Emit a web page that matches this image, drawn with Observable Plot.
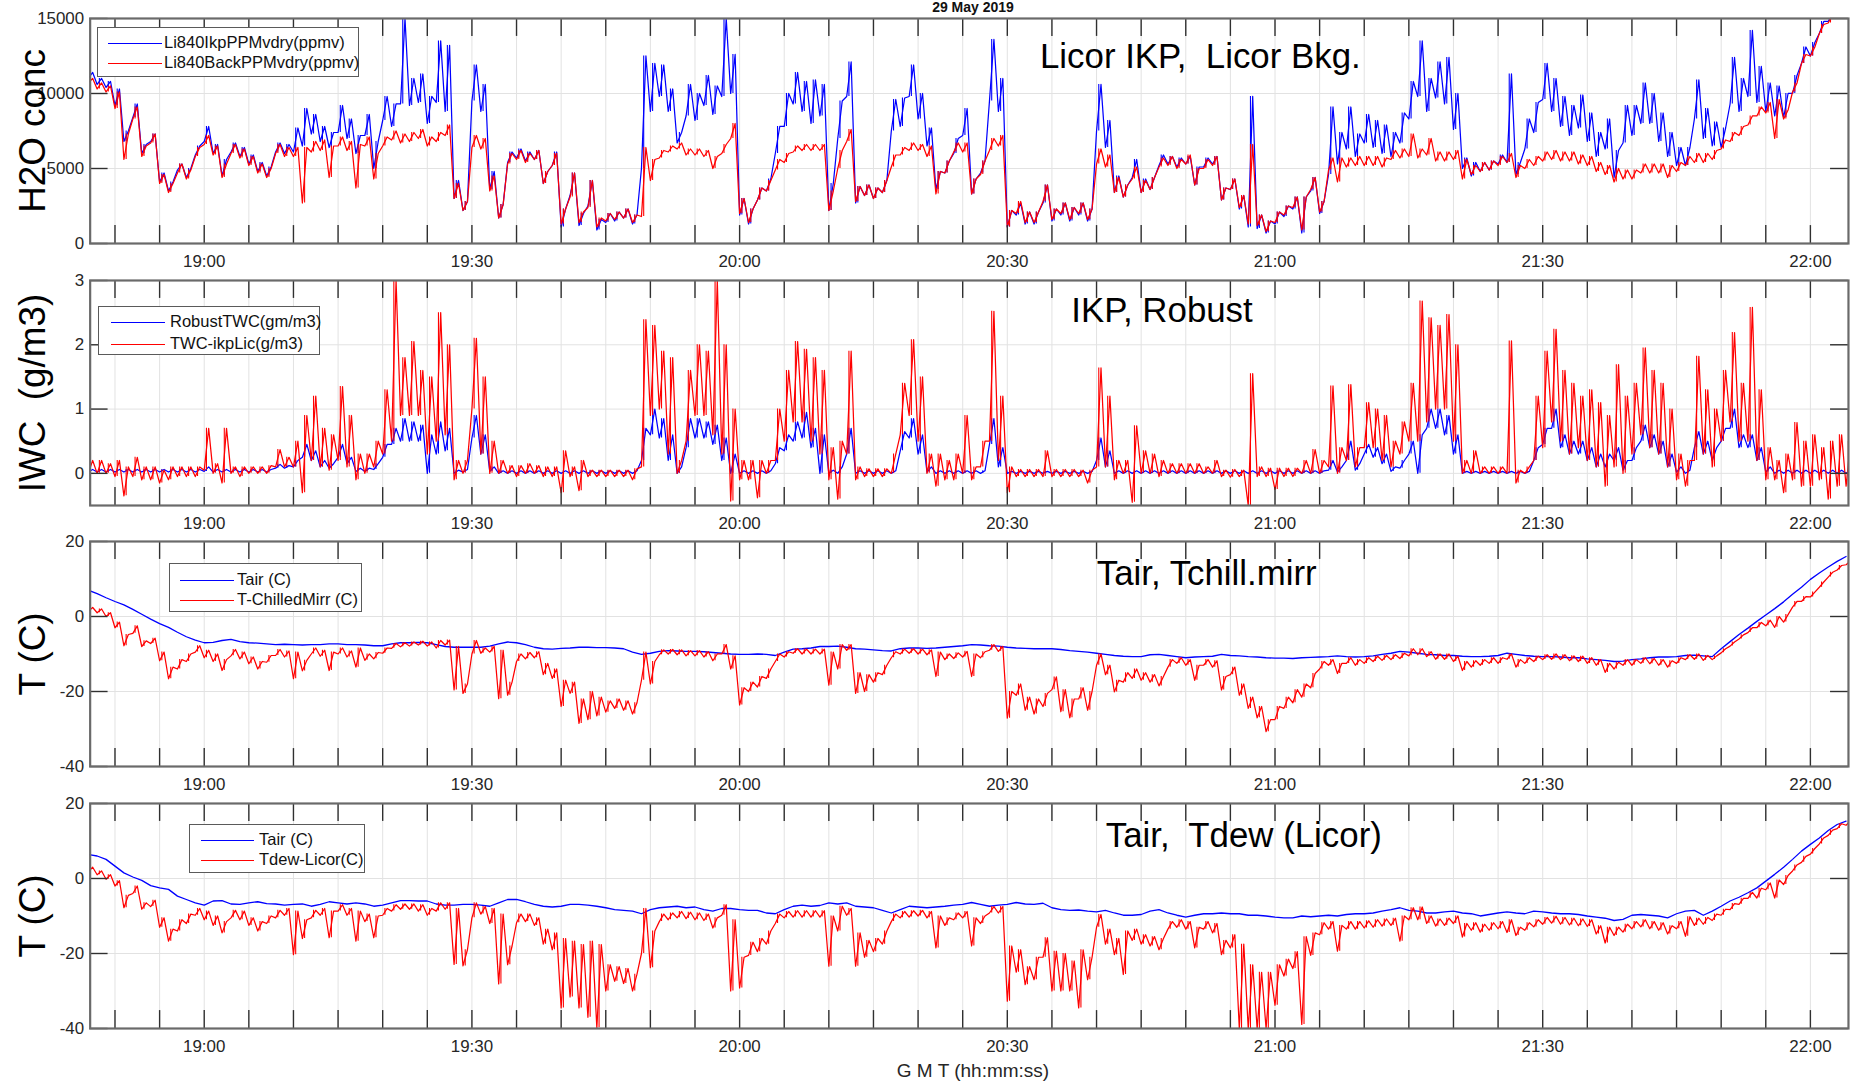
<!DOCTYPE html>
<html>
<head>
<meta charset="utf-8">
<script src="https://cdn.jsdelivr.net/npm/d3@7"></script>
<script src="https://cdn.jsdelivr.net/npm/@observablehq/plot@0.6"></script>
<style>
html,body{margin:0;padding:0;background:#fff;overflow:hidden;width:1852px;height:1084px;}
#root{position:relative;width:1852px;height:1084px;overflow:hidden;font-family:"Liberation Sans",Arial,sans-serif;}
.panel{position:absolute;left:0;}
.legend{position:absolute;background:#fff;border:1.4px solid #5a5a5a;box-sizing:border-box;}
.legend .sw{position:absolute;height:0;border-top:1.5px solid;}
.legend .lab{position:absolute;font-size:16.5px;line-height:17px;color:#111;white-space:nowrap;transform:translateY(-52%);}
.title{position:absolute;left:773px;width:400px;text-align:center;top:0px;font-weight:bold;font-size:14px;line-height:14px;color:#111;}
.xlab{position:absolute;left:773px;width:400px;text-align:center;top:1061px;font-size:19px;line-height:19px;color:#262626;}
</style>
</head>
<body>
<div id="root"></div>
<script>
// ---------- time grid (one reading pair per minute, 18:47 .. 22:04 GMT) ----------
const startTime = "2019-05-29T18:47:00Z";
const xStart = "2019-05-29T18:47:13Z";
const xEnd = "2019-05-29T22:04:16Z";
const timeLabels = ["19:00","19:30","20:00","20:30","21:00","21:30","22:00"];

// ---------- panel 1 : H2O concentration (ppmv) ----------
const ikpLo = [11000,10600,10400,9200,6800,8400,6000,6800,4100,3500,
4900,4400,5900,6800,6000,4500,6100,5800,5300,4800,
4500,6100,6000,6100,6500,7300,6800,6400,7400,7000,
6000,7200,5000,8200,7800,9300,9200,9400,8000,9400,
8800,3000,2200,9500,8800,3600,1700,5400,5700,5500,
5600,4000,5200,1100,3200,1200,2500,900,1400,1500,
1700,1300,5000,8800,9800,8800,6700,8500,8200,9200,
8600,9800,10000,1900,1300,2900,3500,6000,7800,9300,
8800,8000,8500,2200,7000,9800,2700,3200,3000,3400,
7500,7800,9800,8300,6500,3600,4700,6000,7200,3300,
4700,9500,8800,1100,1900,1300,1300,2700,1500,1900,
1500,1900,1500,7500,6400,3400,3100,4400,3400,3600,
5200,5300,5100,5300,3900,5100,5300,2900,3600,2300,
1100,1000,700,1300,1800,2300,700,3500,2000,4600,
5300,6300,5800,6700,6400,6000,5800,6700,8300,9800,
8800,9700,9300,7600,5000,4500,4800,4900,5300,5400,
4600,6300,7400,9600,8800,7800,7200,7700,6800,5800,
6300,4400,6700,7200,8000,8000,6800,5800,5200,5200,
8300,7000,6500,6400,9300,8800,9800,9400,8800,8500,
8400,10000,12000,12500,14000,14800,15500,16200];
const ikpHi = [11400,11000,10800,10300,7500,9300,6600,7300,4700,4100,
5300,5000,6500,7800,6600,5600,6700,6400,5900,5400,
5100,6700,6600,7700,9000,8600,7800,7400,9200,8300,
7200,8600,6800,9800,9300,15000,11000,11300,9800,13500,
13200,4200,2800,11900,10600,4800,2600,6100,6300,6100,
6200,4800,6100,2300,4700,2000,4200,1600,2000,2100,
2300,1900,12500,12000,11900,10300,7400,10600,10000,11200,
10500,15000,12600,3000,2300,3700,4300,7800,10000,11400,
10800,10900,10600,4000,9500,12100,3800,3900,3700,4200,
9600,9700,11900,10000,7700,4800,5500,7000,9000,4300,
5500,13600,11000,2200,2700,2100,2100,3900,2300,2700,
2400,2700,2300,10600,8200,4500,3900,5600,4300,4400,
5900,5800,5700,5800,5100,5700,5800,3700,4300,3200,
9800,1900,1500,2100,2500,3100,3100,4400,2800,9100,
7400,9100,7300,8600,8200,7900,7400,8700,10800,13500,
11000,12100,12400,10000,5700,5400,5400,5500,5900,11300,
5400,8300,9400,12000,11000,9800,9200,9900,8700,7400,
8300,6200,9200,9200,10700,10000,8700,7400,6400,6400,
10900,9000,8100,7700,12400,11000,14200,11800,10700,10500,
10000,11200,13100,13400,14800,15400,16100,16800];
const bkgLo = [10700,10300,10100,9000,5600,8300,5800,6700,4000,3400,
4700,4300,5800,6600,5900,4400,6000,5700,5200,4700,
4400,6000,5800,5800,2700,6100,6200,4400,6500,6200,
3700,6500,4300,6500,6900,6700,6800,7000,6500,6800,
7200,3000,2200,6400,6300,3500,1700,5300,5600,5400,
5600,4000,5200,1300,3100,1400,2400,1100,1500,1600,
1700,1400,1800,4200,5700,6100,6300,5900,5900,5800,
5000,6000,7000,2000,1400,2900,3500,4900,5400,6100,
6200,6200,6200,2200,5000,6800,2800,3200,3000,3400,
5100,5900,6200,6200,5800,3300,4700,6100,6100,3300,
4600,6200,6500,1100,2000,1400,1400,2800,1600,2000,
1600,2000,1600,5300,5100,3400,3100,4300,3400,3600,
5100,5200,5000,5300,3900,5000,5200,2900,3600,2400,
1300,1200,800,1400,1900,2400,900,3600,2100,4900,
4100,5100,5200,5200,5200,5100,5600,5700,5800,5700,
5900,5500,5500,5600,4300,4600,4800,4900,5200,5400,
4400,5000,5200,5500,5600,5500,5500,5300,5200,4800,
4600,4100,4300,4300,4700,4700,4700,4400,4800,5200,
5400,5400,5600,6300,6800,7200,7900,8500,8700,7000,
8300,10100,12000,12500,14000,14700,15500,16200];
const bkgHi = [11000,10700,10500,10100,7300,9100,6500,7300,4600,4000,
5300,4900,6400,7200,6500,5300,6600,6300,5800,5300,
5000,6600,6400,6400,6400,6800,6900,6500,7100,6800,
6600,7100,6000,7100,7500,7300,7400,7600,7100,7400,
7900,4000,2800,7200,7000,4500,2600,6000,6200,6000,
6200,4800,6000,2300,4700,2100,4200,1700,2000,2100,
2300,1900,6400,5600,6200,6500,6700,6300,6300,6200,
5800,6600,8000,3000,2300,3700,4200,5600,6000,6500,
6600,6600,6600,3500,6200,7600,3800,3900,3700,4200,
5900,6400,6700,6600,6500,4800,5500,6700,6700,4300,
5500,7000,7200,2200,2800,2100,2100,3900,2300,2700,
2400,2700,2300,6300,5900,4400,3900,5100,4200,4400,
5700,5800,5600,5900,5000,5600,5800,3700,4300,3200,
6600,1900,1500,2100,2500,3100,3100,4400,2800,5700,
5700,5700,5800,5800,5800,5700,6200,6300,7300,6300,
7000,6100,6100,6200,5600,5200,5400,5500,5800,6000,
5200,5600,5800,6100,6200,6100,6100,5900,5800,5400,
5200,5000,4900,4900,5300,5300,5300,5200,5400,5800,
6000,6000,6200,6900,7400,7800,8500,9100,9400,9600,
8900,10700,12600,13100,14600,15300,16100,16800];

// ---------- panel 2 : IWC (g/m3) ----------
const robustLo = [0.02,0.02,0.02,0.02,0.02,0.02,0.02,0.02,0.02,0.02,
0.02,0.02,0.02,0.03,0.02,0.02,0.02,0.02,0.02,0.02,
0.02,0.08,0.08,0.1,0.25,0.2,0.1,0.08,0.25,0.15,
0.03,0.03,0.06,0.25,0.45,0.5,0.5,0.5,0,0.3,
0.35,0,0.02,0.55,0.3,0.03,0,0,0,0,
0,0,0,0,0,0,0,0,0,0,
0,0,0.2,0.6,0.55,0.2,0,0.4,0.55,0.55,
0.45,0.2,0,0,0,0,0,0.15,0.35,0.5,
0.55,0.4,0,0,0,0.3,0,0,0,0,
0,0.35,0.55,0.3,0.02,0,0,0,0,0,
0,0.45,0.1,0,0,0,0,0,0,0,
0,0,0,0.2,0.1,0,0,0,0,0,
0,0,0,0,0,0,0,0,0,0,
0,0,0,0,0,0,0,0,0,0.05,
0.02,0.2,0.05,0.3,0.25,0.15,0.03,0.08,0.3,0,
0.7,0.7,0.6,0.3,0,0,0,0,0,0,
0,0,0.2,0.45,0.7,0.4,0.3,0.3,0.2,0.1,
0.1,0.2,0.05,0.2,0.5,0.4,0.3,0.1,0.02,0,
0.4,0.3,0.2,0.5,0.7,0.4,0.4,0.2,0.02,0,
0,0,0,0,0,0,0,0];
const robustHi = [0.06,0.06,0.06,0.06,0.06,0.06,0.06,0.06,0.06,0.06,
0.06,0.06,0.06,0.1,0.06,0.06,0.06,0.06,0.06,0.06,
0.06,0.14,0.12,0.2,0.45,0.35,0.2,0.15,0.45,0.25,
0.08,0.08,0.15,0.45,0.7,0.85,0.8,0.75,0.6,0.8,
0.7,0.05,0.06,0.9,0.6,0.1,0.04,0.04,0.04,0.04,
0.04,0.04,0.04,0.04,0.04,0.04,0.04,0.04,0.04,0.04,
0.04,0.04,0.7,1.0,0.85,0.6,0.1,0.85,0.85,0.8,
0.75,0.55,0.3,0.04,0.04,0.04,0.04,0.4,0.6,0.8,
0.95,0.7,0.6,0.05,0.1,0.7,0.04,0.04,0.04,0.04,
0.04,0.65,0.85,0.6,0.1,0.04,0.04,0.04,0.04,0.04,
0.04,0.85,0.4,0.03,0.03,0.03,0.03,0.03,0.03,0.03,
0.03,0.03,0.03,0.55,0.35,0.04,0.04,0.04,0.04,0.04,
0.04,0.04,0.04,0.04,0.04,0.04,0.04,0.04,0.04,0.04,
0.04,0.04,0.04,0.04,0.04,0.04,0.04,0.04,0.04,0.2,
0.1,0.5,0.15,0.45,0.4,0.3,0.1,0.2,0.5,0.6,
1.0,1.0,0.9,0.6,0.03,0.03,0.03,0.03,0.03,0.03,
0.03,0.03,0.4,0.7,1.0,0.6,0.5,0.5,0.4,0.3,
0.3,0.4,0.2,0.4,0.75,0.6,0.5,0.3,0.1,0.05,
0.65,0.5,0.4,0.7,1.0,0.6,0.6,0.4,0.1,0.05,
0.05,0.05,0.05,0.05,0.05,0.05,0.05,0.05];
const twcLo = [0,0,0,-0.05,-0.35,-0.05,-0.1,-0.1,-0.15,-0.1,
-0.05,-0.05,-0.05,0.05,0,-0.15,0,-0.05,0,0,
0,0.1,0.1,0.1,-0.3,0.2,0.1,0.05,0.2,0.1,
-0.1,0,0.1,0.3,0.5,0.9,0.9,0.9,0.3,0.5,
0.6,-0.1,0,1.0,0.3,0,0,0,-0.05,0,
0,-0.05,-0.05,-0.3,-0.05,-0.27,-0.05,-0.05,-0.05,-0.05,
-0.05,-0.1,0.1,0.9,1.0,0.3,0,0.5,0.9,0.9,
0.6,0.3,-0.43,-0.1,-0.1,-0.38,0,0.2,0.5,0.8,
0.8,0.5,0.3,-0.1,-0.4,0.3,-0.1,-0.05,-0.05,-0.05,
0,0.6,0.9,0.5,0,-0.2,-0.1,-0.1,0,-0.1,
0.1,0.5,0.2,-0.3,-0.05,-0.05,-0.05,-0.05,-0.05,-0.05,
-0.05,-0.05,-0.15,0.1,0.1,-0.1,0,-0.45,0,0,
-0.05,0,0,0,0,0,0,-0.05,-0.06,-0.05,
-0.5,-0.05,-0.05,-0.25,-0.05,-0.05,0,0,0,0.1,
0,0.2,0.1,0.4,0.4,0.2,0.1,0.3,0.5,0.5,
0.8,1.0,1.0,0.5,0,0,0,0,0,0,
-0.15,0,0.2,0.4,0.8,0.5,0.3,0.4,0.2,0.1,
-0.2,0.1,0,0.3,0.6,0.4,0.3,0.1,-0.1,-0.2,
0.2,0.3,0.1,0.5,0.8,0.5,0.5,0.2,-0.1,-0.1,
-0.3,-0.1,-0.2,-0.2,-0.1,-0.4,-0.2,-0.2];
const twcHi = [0.2,0.2,0.15,0.2,0.1,0.25,0.1,0.1,0.05,0.1,
0.1,0.1,0.1,0.7,0.15,0.7,0.1,0.1,0.1,0.1,
0.12,0.37,0.25,0.5,0.9,1.2,0.7,0.6,1.35,0.9,
0.3,0.3,0.5,1.3,3.0,1.8,2.05,1.6,1.5,2.5,
2.0,0.2,0.2,2.1,1.5,0.5,0.2,0.12,0.12,0.15,
0.12,0.1,0.1,0.35,0.1,0.2,0.05,0.05,0.05,0.05,
0.05,0.07,2.39,2.3,1.9,1.8,0.2,1.6,2.0,1.9,
3.0,2.0,1.0,0.2,0.2,0.2,0.2,1.0,1.6,2.05,
1.93,1.8,1.6,0.4,0.5,1.9,0.1,0.07,0.07,0.07,
0.3,1.4,2.08,1.5,0.3,0.3,0.2,0.3,0.9,0.1,
0.5,2.52,1.2,0.1,0.06,0.06,0.06,0.35,0.06,0.06,
0.06,0.05,0.05,1.64,1.2,0.2,0.2,0.74,0.35,0.3,
0.2,0.15,0.15,0.15,0.15,0.1,0.2,0.05,0.06,0.05,
1.55,0.1,0.08,0.08,0.08,0.08,0.2,0.37,0.2,1.36,
0.4,1.38,0.4,1.1,1.0,0.9,0.5,0.8,1.4,2.68,
2.42,2.3,2.47,2.0,0.2,0.35,0.1,0.1,0.1,2.06,
0.05,0.1,1.2,1.9,2.24,1.6,1.4,1.2,1.3,1.1,
0.9,1.69,1.2,1.4,1.95,1.6,1.4,1.0,0.3,0.2,
1.82,1.3,1.0,1.6,2.19,1.4,2.58,1.3,0.4,0.2,
0.3,0.79,0.5,0.6,0.4,0.5,0.6,0.5];

// ---------- panel 3 : Tair and chilled-mirror T (C) ----------
const tairMirr = [7.0,6.1,5.0,4.0,3.1,1.9,0.6,-0.7,-1.9,-2.9,
-4.2,-5.4,-6.3,-7.0,-6.9,-6.4,-6.1,-6.7,-7.0,-7.1,
-7.3,-7.5,-7.4,-7.5,-7.6,-7.5,-7.5,-7.3,-7.3,-7.5,
-7.5,-7.6,-7.8,-7.8,-7.3,-7.0,-7.0,-6.9,-7.0,-7.5,
-8.0,-8.2,-8.2,-8.2,-8.2,-7.9,-7.3,-6.8,-7.0,-7.5,
-8.2,-8.6,-8.7,-8.5,-8.4,-8.2,-8.2,-8.3,-8.3,-8.4,
-8.6,-9.5,-10.1,-9.8,-9.3,-9.1,-9.2,-9.3,-9.3,-9.4,
-9.6,-9.8,-10.0,-10.1,-10.1,-10.0,-10.1,-10.4,-9.5,-8.7,
-8.6,-8.4,-8.0,-8.0,-7.9,-8.2,-8.6,-8.7,-8.9,-9.1,
-9.2,-8.6,-8.4,-8.4,-8.5,-8.4,-8.2,-8.0,-7.8,-7.5,
-7.6,-7.8,-7.9,-8.2,-8.4,-8.5,-8.6,-8.6,-8.6,-8.8,
-9.1,-9.3,-9.5,-9.8,-10.1,-10.4,-10.6,-10.7,-10.7,-10.2,
-10.1,-10.4,-10.7,-11.0,-10.8,-10.7,-10.6,-10.1,-10.4,-10.5,
-10.7,-10.8,-11.0,-11.1,-11.1,-11.2,-11.0,-10.9,-10.8,-10.7,
-10.5,-10.7,-10.8,-10.7,-10.5,-10.1,-9.8,-9.3,-9.5,-9.8,
-10.1,-10.2,-10.4,-10.4,-10.6,-10.7,-10.7,-10.6,-10.4,-9.8,
-10.1,-10.4,-10.6,-10.7,-10.7,-10.8,-11.0,-11.0,-11.3,-11.5,
-11.7,-12.0,-11.9,-11.5,-11.3,-11.0,-10.8,-10.8,-10.7,-10.4,
-10.3,-10.5,-10.7,-8.6,-6.7,-4.8,-3.1,-1.3,0.4,2.1,
3.9,5.9,7.8,9.9,11.6,13.2,14.7,16.0];
const mirrLo = [1.4,1.0,0.0,-3.0,-7.8,-4.5,-8.0,-7.2,-11.8,-16.6,
-14,-12,-9.5,-11,-12,-14.4,-10.5,-11.3,-12.6,-14,
-12.2,-10.4,-10.8,-16.6,-14.5,-10,-10.6,-14.4,-10,-10.8,
-13.5,-11.7,-11.3,-9.8,-8.5,-8.1,-7.9,-7.6,-7.9,-8.4,
-7.6,-19.6,-20.5,-10,-9.8,-9.5,-21.9,-21,-12,-11.3,
-11,-15.5,-16.5,-24,-20.5,-28.5,-27.5,-26.5,-25.5,-24.5,
-25,-26,-17,-18,-10.2,-10,-10.2,-10.5,-10.5,-10.8,
-11.8,-10,-14,-23.6,-20,-18.8,-16.5,-12,-10.8,-9.8,
-10,-10,-10,-18.3,-14,-9,-20.5,-20,-17.5,-15.5,
-11,-10,-9.8,-10,-10.2,-16,-11.5,-11.2,-10.8,-16,
-11,-9,-9.3,-27.1,-21,-25,-26,-24,-19.5,-25.4,
-27,-22,-25,-13,-15.5,-20.1,-17.5,-16.5,-17,-17.5,
-18.5,-13.5,-12.5,-13,-17,-13,-13.5,-19.6,-15.5,-21,
-24.5,-27,-30.7,-27.5,-24.5,-23,-21.5,-19,-14,-13,
-15.2,-12.5,-13,-12.5,-12,-11.7,-11.5,-11.2,-10.5,-10.2,
-10.7,-11.4,-11.4,-12,-14.4,-13.5,-13,-12.5,-12.5,-11.4,
-13.5,-12.5,-12,-11.5,-11.4,-11.5,-11.8,-12,-12.5,-13,
-14.9,-14,-13,-13,-12.5,-12.6,-13,-13.5,-12.5,-11.5,
-11.4,-11.7,-11.5,-9.7,-7.9,-6,-4.3,-3,-2.5,-2.9,
-1.5,2.5,4,5.2,7.8,10.5,12.4,13.8];
const mirrHi = [2.4,2.0,1.0,-1.5,-4.8,-2.5,-6.5,-5.8,-9.5,-13.5,
-11.5,-10,-7.8,-9,-10,-11.5,-8.8,-9.5,-10.8,-12,
-10.4,-8.8,-9.2,-9.5,-11.7,-8.4,-9,-9.5,-8.4,-9.2,
-8.4,-10,-9.6,-8.4,-7.2,-7,-6.8,-6.6,-6.8,-6.4,
-6.3,-8,-18,-6.4,-8.4,-8,-9,-17.5,-10,-9.6,
-9.4,-12.5,-14,-17,-17.5,-22,-20,-21.5,-22.5,-22,
-22.5,-23,-9.5,-12,-8.9,-8.8,-8.9,-9.1,-9.1,-9.4,
-10,-7.5,-10.5,-19,-17.5,-16,-14,-10,-9.4,-8.6,
-8.7,-8.7,-8.7,-9.5,-7.5,-7.5,-15,-15.5,-15,-13,
-9.4,-8.7,-8.6,-8.7,-8.9,-9.5,-10,-9.7,-9.3,-10,
-9.4,-7.5,-8,-20,-18,-21.5,-22,-20.5,-16.1,-19.5,
-22,-19,-20,-10,-13,-17,-15,-14,-15,-15.5,
-16,-11.5,-11,-11.5,-13,-11.5,-11.8,-16,-13.5,-18,
-21.5,-24,-27.5,-24,-21.5,-19.5,-18,-15.2,-12,-11.5,
-12.5,-11,-11.5,-11,-10.6,-10.4,-10.2,-9.8,-8.6,-8.6,
-9.4,-10,-10,-10.6,-12,-11.8,-11.5,-11,-11,-10,
-11.5,-11,-10.6,-10.2,-10,-10.2,-10.5,-10.6,-11,-11.5,
-12.5,-12.2,-11.5,-11.5,-11,-11.2,-11.5,-11.8,-11,-10.2,
-10,-10.4,-10.5,-8.6,-6.8,-4.9,-3,-1.6,-1,0,
0.5,4,5.3,6.5,9.2,11.8,13.6,14.8];

// ---------- panel 4 : Tair and Licor dew point (C) ----------
const tairLicor = [6.4,6.0,5.1,3.3,1.5,0.4,-0.5,-1.9,-2.5,-2.9,
-4.7,-5.6,-6.5,-7.1,-6.0,-5.9,-6.8,-6.9,-6.5,-6.2,
-6.7,-6.8,-7.1,-6.9,-6.8,-7.4,-6.9,-6.2,-6.5,-6.8,
-6.5,-6.8,-7.4,-7.1,-6.5,-5.9,-5.9,-6.0,-6.0,-6.8,
-7.1,-7.1,-6.9,-6.9,-7.1,-7.4,-6.5,-5.6,-5.6,-6.2,
-6.9,-7.4,-7.6,-7.4,-6.9,-6.9,-7.1,-7.4,-7.8,-8.3,
-8.5,-8.7,-9.4,-8.3,-7.8,-7.6,-7.4,-7.8,-7.6,-8.3,
-8.7,-8.0,-8.0,-8.3,-8.5,-8.5,-9.2,-9.4,-8.3,-7.4,
-7.1,-7.4,-7.2,-6.5,-6.8,-6.5,-7.4,-7.6,-7.8,-8.5,
-9.2,-8.3,-7.4,-7.6,-7.8,-7.6,-7.4,-7.1,-6.9,-6.4,
-6.9,-7.4,-7.1,-6.9,-6.4,-6.8,-6.9,-6.6,-7.8,-8.3,
-8.5,-8.4,-8.7,-8.9,-8.5,-9.2,-9.8,-9.8,-9.6,-8.7,
-8.3,-9.2,-9.8,-10.3,-9.8,-9.4,-9.4,-9.2,-9.4,-9.4,
-9.8,-9.8,-10.0,-10.3,-10.5,-10.5,-10.0,-10.2,-10.0,-9.8,
-10.0,-9.6,-9.4,-9.4,-9.2,-8.7,-8.3,-7.8,-8.5,-8.7,
-9.2,-9.2,-8.9,-8.7,-9.2,-9.4,-10.0,-9.6,-9.2,-8.9,
-9.2,-9.4,-8.7,-8.9,-9.2,-9.4,-9.4,-9.6,-10.0,-10.3,
-10.6,-11.2,-10.9,-9.8,-9.6,-9.8,-10.0,-10.5,-9.4,-8.7,
-8.5,-9.8,-8.7,-7.4,-6.0,-5.0,-3.8,-2.5,-0.7,1.1,
3.0,5.1,7.3,9.1,10.8,12.8,14.4,15.3];
const dewLo = [1.8,1.0,-0.2,-2.0,-7.8,-4,-8.2,-7.5,-13,-16.7,
-14,-12,-9.8,-11,-12.5,-14.5,-10.5,-11,-12.5,-14,
-12,-10.5,-9.8,-20.3,-16,-10.5,-9.8,-15.8,-8.7,-9.8,
-16.7,-11.5,-15.8,-9.8,-8.7,-8.2,-8.2,-8.7,-9.8,-8.7,
-8.2,-22.9,-23.3,-10.5,-9.5,-12,-28.1,-23,-11.8,-11.5,
-12.5,-17.5,-19,-34.5,-31.6,-34.5,-37,-39.8,-30,-27.4,
-28,-30,-20,-23.8,-11.5,-11,-10.5,-10.7,-11,-11.2,
-13.2,-9.8,-30,-29.2,-20.5,-19.5,-17.5,-12,-10.5,-10.3,
-10.3,-10.3,-10.3,-23.4,-14,-9.8,-23.4,-21,-19.5,-17.5,
-11.5,-10.5,-10.3,-10,-10.5,-18.5,-12.5,-11,-10.5,-18,
-12,-9.2,-9.2,-32.7,-25,-28.3,-27,-21,-30,-30,
-30,-34.5,-27,-13,-17.5,-20.3,-25.6,-16.5,-17.5,-18,
-19,-13.5,-13,-13.5,-18.5,-13.5,-14.5,-20.3,-18.5,-40,
-40,-40,-40,-33.8,-26,-24,-38.9,-20.5,-15,-13.5,
-19.4,-13.5,-13.5,-13.2,-13,-12.7,-12.5,-16.7,-11,-11,
-12,-12.7,-12.5,-12,-15.6,-13.8,-14.3,-13.8,-13.4,-14.4,
-15.2,-13.8,-12.9,-12.2,-11.9,-12.2,-12.4,-12.6,-12.8,-14.8,
-17.2,-15.2,-14.3,-13.4,-12.9,-13.4,-13.8,-14.8,-13.4,-15.4,
-12.5,-12.2,-11.2,-9.8,-8.3,-6.9,-5.3,-5.2,-3,-5.2,
-1.6,2,4.3,6.5,9.2,11.5,13.3,14.2];
const dewHi = [3.0,2.0,1.0,-0.6,-4.5,-2,-6.5,-5.8,-10.5,-13.5,
-11,-9.5,-8,-8.7,-10,-11.5,-8.5,-8.7,-10.5,-11.5,
-10,-8.5,-8,-8.7,-11,-8.5,-8,-8.7,-7,-8,
-8.7,-9.5,-10,-8,-7,-6.8,-6.8,-7,-8,-6.5,
-6.5,-8,-19,-6.5,-7.5,-8,-9.5,-18,-9.5,-9.5,
-10.5,-13.5,-14.5,-16,-16.7,-17.6,-16.7,-17.6,-23,-23.5,
-24,-25.5,-8,-14,-9.5,-9.2,-8.8,-9,-9.2,-9.5,
-10.5,-7,-11,-21,-17,-16,-14,-9.5,-8.8,-8.6,
-8.6,-8.6,-8.6,-10,-7.4,-8,-14.5,-16.5,-16,-14,
-9.5,-8.8,-8.6,-8.5,-8.8,-10,-10.5,-9.2,-8.8,-10.5,
-10,-7.5,-7.5,-18,-19,-23.5,-21,-15.8,-19.4,-20,
-22,-19,-21,-9.6,-13.5,-16,-14,-13.5,-15,-15.5,
-16,-11.5,-11,-11.5,-13,-11.5,-12,-16.5,-15,-17.5,
-23,-25,-25,-23,-21.5,-19.5,-15.5,-14.5,-11.8,-11.5,
-12.5,-11.5,-11.5,-11.3,-11,-10.8,-10.6,-10,-7.8,-7.6,
-10,-10.8,-10.6,-10,-12,-11.8,-12.2,-11.8,-11.5,-11,
-13,-11.8,-11,-10.4,-10.1,-10.4,-10.6,-10.8,-11,-12.6,
-13,-13,-12.2,-11.5,-11,-11.5,-11.8,-12.6,-11.5,-10.2,
-10.6,-10.4,-9.5,-8.2,-6.7,-5.3,-3.7,-2.6,-1.2,-0.4,
0.8,3.6,5.9,8,10.8,12.9,14.6,15.4];

// ---------- axis ticks, labels, legends ----------
const h2oTicks = [0,5000,10000,15000];
const iwcTicks = [0,1,2,3];
const tTicks = [-40,-20,0,20];
const h2oNames = ["Li840IkpPPMvdry(ppmv)","Li840BackPPMvdry(ppmv)"];
const iwcNames = ["RobustTWC(gm/m3)","TWC-ikpLic(g/m3)"];
const mirrNames = ["Tair (C)","T-ChilledMirr (C)"];
const dewNames = ["Tair (C)","Tdew-Licor(C)"];
const BLUE = "#0000ff", RED = "#ff0000";

// ---------- helpers ----------
const t0 = new Date(startTime).getTime();
const tAt = (i, half) => new Date(t0 + i * 60000 + (half ? 30000 : 0));
function pairs(lo, hi) {           // each minute: low reading, then high reading half a minute later
  const out = [];
  for (let i = 0; i < lo.length; i++) { out.push({t: tAt(i, 0), v: lo[i]}); out.push({t: tAt(i, 1), v: hi[i]}); }
  return out;
}
// the minute's full spread, drawn as a vertical stroke between the two readings
const spread = (lo, hi) => lo.map((v, i) => ({t: new Date(t0 + i * 60000 + 15000), lo: v, hi: hi[i]}));
const single = vals => vals.map((v, i) => ({t: tAt(i, 0), v}));
const parseHM = s => new Date(`2019-05-29T${s}:00Z`);
const labelTimes = timeLabels.map(parseHM);
const minorTicks = d3.utcMinute.every(5).range(new Date(xStart), new Date(xEnd));
const hm = d3.utcFormat("%H:%M");

const W = 1860, ML = 90, MR = 4, MT = 2, MB = 34, PH = 226, TICK = 18;
const FW = W - ML - MR;

const panels = [
  {top: 18, domain: [0, 15000], ticks: h2oTicks, grid: [5000, 10000], label: "H2O conc",
   note: "Licor IKP,\u00a0 Licor Bkg.", ndx: 954, ndy: 50,
   series: [{lo: ikpLo, hi: ikpHi, c: BLUE}, {lo: bkgLo, hi: bkgHi, c: RED}],
   legend: {names: h2oNames, left: 97, top: 27, w: 262, h: 50, rows: [15.3, 35.3], l0: 10, l1: 64, tx: 66}},
  {top: 280, domain: [-0.5, 3], ticks: iwcTicks, grid: [0, 1, 2], label: "IWC\u00a0 (g/m3)",
   note: "IKP, Robust", ndx: 985.5, ndy: 41.7,
   series: [{lo: robustLo, hi: robustHi, c: BLUE}, {lo: twcLo, hi: twcHi, c: RED}],
   legend: {names: iwcNames, left: 98, top: 306, w: 222, h: 49, rows: [14.7, 36.7], l0: 12, l1: 66, tx: 71}},
  {top: 541, domain: [-40, 20], ticks: tTicks, grid: [-20, 0], label: "T (C)",
   note: "Tair, Tchill.mirr", ndx: 1011, ndy: 44,
   series: [{v: tairMirr, c: BLUE}, {lo: mirrLo, hi: mirrHi, c: RED}],
   legend: {names: mirrNames, left: 169, top: 563, w: 193, h: 49, rows: [15.5, 35.5], l0: 10, l1: 63.5, tx: 67}},
  {top: 803, domain: [-40, 20], ticks: tTicks, grid: [-20, 0], label: "T (C)",
   note: "Tair,\u00a0 Tdew (Licor)", ndx: 1020, ndy: 43.7,
   series: [{v: tairLicor, c: BLUE}, {lo: dewLo, hi: dewHi, c: RED}],
   legend: {names: dewNames, left: 189, top: 824, w: 176, h: 49, rows: [15.3, 35], l0: 11.4, l1: 64.4, tx: 69}}
];

function seriesMarks(s) {
  if (s.v) return [Plot.line(single(s.v), {x: "t", y: "v", stroke: s.c, strokeWidth: 1.3, clip: true})];
  return [
    Plot.ruleX(spread(s.lo, s.hi), {x: "t", y1: "lo", y2: "hi", stroke: s.c, strokeWidth: 1.1, clip: true}),
    Plot.line(pairs(s.lo, s.hi), {x: "t", y: "v", stroke: s.c, strokeWidth: 1.25, clip: true})
  ];
}

const root = document.getElementById("root");

for (const p of panels) {
  const chart = Plot.plot({
    width: W, height: PH + MT + MB,
    marginLeft: ML, marginRight: MR, marginTop: MT, marginBottom: MB,
    style: {fontFamily: "'Liberation Sans', Arial, sans-serif", fontSize: "17px", color: "#262626", background: "transparent", overflow: "visible"},
    x: {type: "utc", domain: [new Date(xStart), new Date(xEnd)], axis: null},
    y: {domain: p.domain, axis: null},
    marks: [
      Plot.gridX(minorTicks, {stroke: "#e2e2e2", strokeOpacity: 1, strokeWidth: 1}),
      Plot.gridY(p.grid, {stroke: "#e2e2e2", strokeOpacity: 1, strokeWidth: 1}),
      ...p.series.flatMap(seriesMarks),
      Plot.tickX(minorTicks, {x: d => d, insetTop: PH - TICK, stroke: "#303030", strokeWidth: 1.4}),
      Plot.tickX(minorTicks, {x: d => d, insetBottom: PH - TICK, stroke: "#303030", strokeWidth: 1.4}),
      Plot.tickY(p.ticks, {y: d => d, insetRight: FW - TICK, stroke: "#303030", strokeWidth: 1.4}),
      Plot.tickY(p.ticks, {y: d => d, insetLeft: FW - TICK, stroke: "#303030", strokeWidth: 1.4}),
      Plot.frame({stroke: "#6a6a6a", strokeWidth: 2.2}),
      Plot.axisX(labelTimes, {tickSize: 0, tickPadding: 12, tickFormat: hm, label: null, fontSize: 17}),
      Plot.axisY(p.ticks, {tickSize: 0, tickPadding: 6, tickFormat: d => String(d), label: null, fontSize: 17}),
      Plot.text([p.label], {frameAnchor: "left", dx: -45, rotate: -90, lineAnchor: "bottom", textAnchor: "middle", fontSize: 37, fill: "#000"}),
      Plot.text([p.note], {frameAnchor: "top-left", dx: p.ndx, dy: p.ndy, textAnchor: "start", lineAnchor: "bottom", fontSize: 35, fill: "#000"})
    ]
  });
  chart.classList.add("panel");
  chart.style.top = (p.top - MT) + "px";
  root.appendChild(chart);

  const L = p.legend;
  const box = document.createElement("div");
  box.className = "legend";
  Object.assign(box.style, {left: L.left + "px", top: L.top + "px", width: L.w + "px", height: L.h + "px"});
  L.names.forEach((name, k) => {
    const sw = document.createElement("div");
    sw.className = "sw";
    Object.assign(sw.style, {left: L.l0 + "px", width: (L.l1 - L.l0) + "px", top: L.rows[k] + "px", borderTopColor: k === 0 ? BLUE : RED});
    const lab = document.createElement("div");
    lab.className = "lab";
    lab.textContent = name;
    Object.assign(lab.style, {left: L.tx + "px", top: L.rows[k] + "px"});
    box.appendChild(sw); box.appendChild(lab);
  });
  root.appendChild(box);
}

const title = document.createElement("div");
title.className = "title"; title.textContent = "29 May 2019";
root.appendChild(title);
const xl = document.createElement("div");
xl.className = "xlab"; xl.textContent = "G M T (hh:mm:ss)";
root.appendChild(xl);
</script>
</body>
</html>
